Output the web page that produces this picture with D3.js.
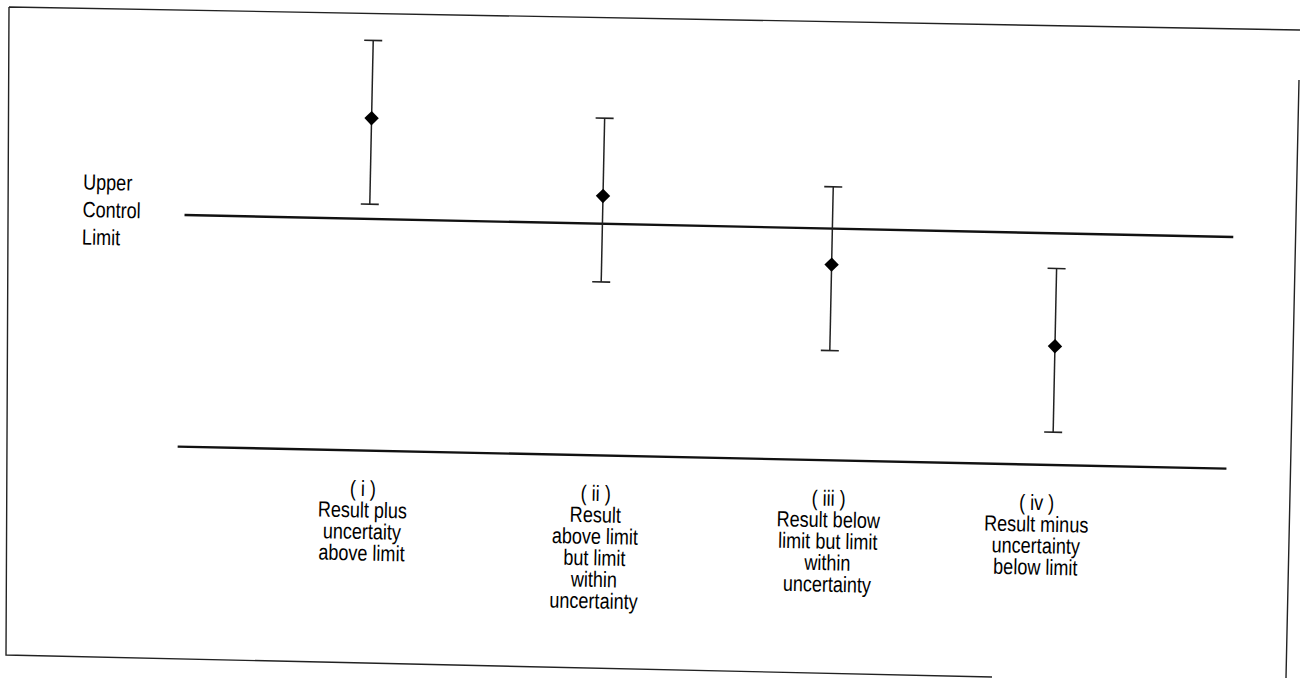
<!DOCTYPE html>
<html>
<head>
<meta charset="utf-8">
<script src="https://cdn.jsdelivr.net/npm/d3@7"></script>
<style>
  html, body { margin: 0; padding: 0; background: #fff; }
  svg { display: block; }
  text { font-family: "Liberation Sans", Arial, sans-serif; fill: #000; }
</style>
</head>
<body>
<svg id="chart" width="1300" height="678"></svg>
<script>
// ---- data ----
const categories = ["i", "ii", "iii", "iv"];
// measured result relative to the upper control limit (in units of the uncertainty)
const results = [1.23, 0.34, -0.44, -1.38];
const uncertaintyUp = [0.95, 0.95, 0.95, 0.95];
const uncertaintyDown = [1.05, 1.05, 1.05, 1.05];
const upperControlLimit = 0;
const lowerLine = -2.83;
const limitLabel = ["Upper", "Control", "Limit"];
const caseLabels = [
  ["( i )", "Result plus", "uncertaity", "above limit"],
  ["( ii )", "Result", "above limit", "but limit", "within", "uncertainty"],
  ["( iii )", "Result below", "limit but limit", "within", "uncertainty"],
  ["( iv )", "Result minus", "uncertainty", "below limit"]
];

// ---- drawing ----
const svg = d3.select("#chart");

// scanned page frame
svg.append("path")
  .attr("d", "M9,7 L1300,30 M9,7 L6,655 L992,677 M1299,80 L1286,678")
  .attr("fill", "none").attr("stroke", "#222").attr("stroke-width", 1.4);

const g = svg.append("g").attr("transform", "rotate(1.2 650 340)");

const x = d3.scaleOrdinal().domain(categories).range([367, 600, 830, 1055]);
const xLabel = d3.scaleOrdinal().domain(categories).range([366, 599, 832, 1040]);
const y = d3.scaleLinear().domain([lowerLine, upperControlLimit]).range([456.5, 224.8]);
const plotX = [182, 1231];
const narrow = 0.82;

// control lines
g.append("line")
  .attr("x1", plotX[0]).attr("x2", plotX[1])
  .attr("y1", y(upperControlLimit)).attr("y2", y(upperControlLimit))
  .attr("stroke", "#111").attr("stroke-width", 2.4);
g.append("line")
  .attr("x1", plotX[0] - 2).attr("x2", plotX[1] - 2)
  .attr("y1", y(lowerLine)).attr("y2", y(lowerLine))
  .attr("stroke", "#111").attr("stroke-width", 2.4);

// error bars
const data = categories.map((c, i) => ({
  c, v: results[i], hi: results[i] + uncertaintyUp[i], lo: results[i] - uncertaintyDown[i], label: caseLabels[i]
}));
const capW = 9;
const bars = g.selectAll("g.bar").data(data).enter().append("g").attr("class", "bar");
bars.append("line")
  .attr("x1", d => x(d.c)).attr("x2", d => x(d.c))
  .attr("y1", d => y(d.hi)).attr("y2", d => y(d.lo))
  .attr("stroke", "#222").attr("stroke-width", 1.5);
bars.append("line")
  .attr("x1", d => x(d.c) - capW).attr("x2", d => x(d.c) + capW)
  .attr("y1", d => y(d.hi)).attr("y2", d => y(d.hi))
  .attr("stroke", "#222").attr("stroke-width", 1.6);
bars.append("line")
  .attr("x1", d => x(d.c) - capW).attr("x2", d => x(d.c) + capW)
  .attr("y1", d => y(d.lo)).attr("y2", d => y(d.lo))
  .attr("stroke", "#222").attr("stroke-width", 1.6);
bars.append("path")
  .attr("d", d3.symbol(d3.symbolSquare, 104))
  .attr("transform", d => `translate(${x(d.c)},${y(d.v)}) rotate(45)`)
  .attr("fill", "#000");

// case labels (condensed sans, like the original)
const fs = 22, lh = 21.5, firstBase = 502;
bars.append("g")
  .attr("transform", d => `translate(${xLabel(d.c)},0) scale(${narrow},1)`)
  .append("text")
  .attr("text-anchor", "middle")
  .attr("font-size", fs)
  .selectAll("tspan").data(d => d.label).enter()
  .append("tspan")
  .attr("x", 0)
  .attr("y", (t, i) => firstBase + i * lh)
  .text(t => t);

// limit label
g.append("g")
  .attr("transform", `translate(80,0) scale(${narrow},1)`)
  .append("text")
  .attr("font-size", fs)
  .selectAll("tspan").data(limitLabel).enter().append("tspan")
  .attr("x", 0)
  .attr("y", (t, i) => 201.5 + i * 27.5)
  .text(t => t);
</script>
</body>
</html>
